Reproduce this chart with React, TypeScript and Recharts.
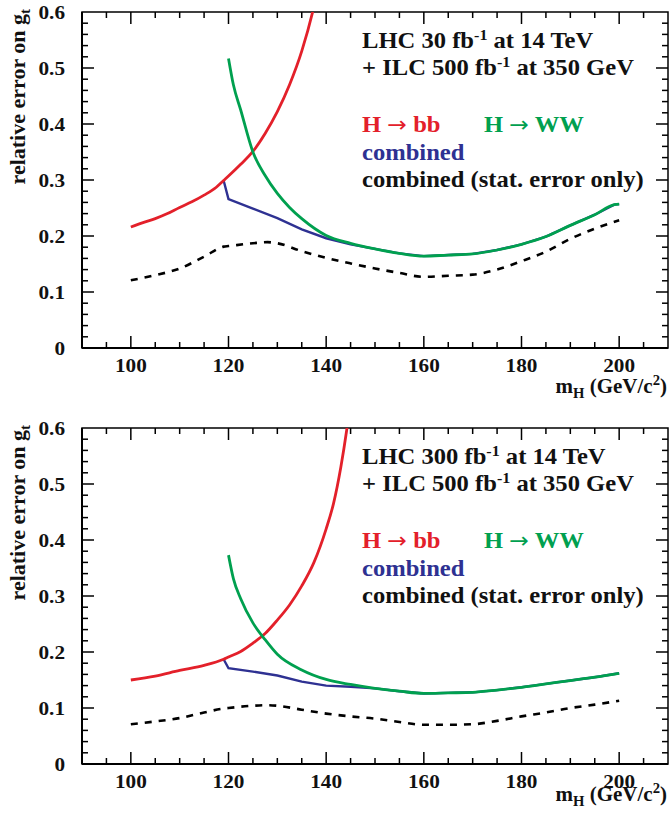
import React from "react"
import { LineChart, Line, XAxis, YAxis, ReferenceArea } from "recharts"

// --- values ---
const xTicks = [90, 95, 100, 105, 110, 115, 120, 125, 130, 135, 140, 145, 150, 155, 160, 165, 170, 175, 180, 185, 190, 195, 200, 205, 210]
const yTicks = [0, 0.02, 0.04, 0.06, 0.08, 0.1, 0.12, 0.14, 0.16, 0.18, 0.2, 0.22, 0.24, 0.26, 0.28, 0.3, 0.32, 0.34, 0.36, 0.38, 0.4, 0.42, 0.44, 0.46, 0.48, 0.5, 0.52, 0.54, 0.56, 0.58, 0.6]
const xLabels = [100, 120, 140, 160, 180, 200]
const yLabels = ["0", "0.1", "0.2", "0.3", "0.4", "0.5", "0.6"]

// LHC 30 fb-1
const bb30Mass = [100, 102.5, 105, 107.5, 110, 112.5, 115, 117.5, 119, 120, 122.5, 125, 127.5, 130, 132.5, 135, 137.5, 140]
const bb30Err = [0.216, 0.224, 0.231, 0.24, 0.251, 0.261, 0.273, 0.287, 0.299, 0.307, 0.328, 0.351, 0.383, 0.422, 0.47, 0.53, 0.61, 0.72]
const ww30Mass = [120, 121, 122.5, 125, 127.5, 130, 132.5, 135, 140, 145, 150, 155, 160, 165, 170, 175, 180, 185, 190, 195, 199, 200]
const ww30Err = [0.517, 0.47, 0.425, 0.35, 0.308, 0.276, 0.251, 0.231, 0.201, 0.187, 0.177, 0.169, 0.164, 0.166, 0.168, 0.175, 0.185, 0.199, 0.219, 0.238, 0.256, 0.257]
const comb30Mass = [119, 120, 125, 130, 135, 140, 145, 150, 155, 160, 165, 170, 175, 180, 185, 190, 195, 199, 200]
const comb30Err = [0.299, 0.266, 0.249, 0.232, 0.212, 0.196, 0.185, 0.177, 0.169, 0.164, 0.166, 0.168, 0.175, 0.185, 0.199, 0.219, 0.238, 0.256, 0.257]
const stat30Mass = [100, 105, 110, 115, 119, 120, 125, 128, 130, 135, 140, 145, 150, 155, 160, 165, 170, 175, 180, 185, 190, 195, 200]
const stat30Err = [0.121, 0.13, 0.142, 0.163, 0.181, 0.182, 0.187, 0.189, 0.187, 0.173, 0.161, 0.151, 0.142, 0.134, 0.127, 0.129, 0.131, 0.14, 0.155, 0.172, 0.195, 0.213, 0.228]

// LHC 300 fb-1
const bb300Mass = [100, 105, 110, 115, 119, 120, 122.5, 125, 127.5, 130, 132.5, 135, 137.5, 140, 141.5, 143, 144.2, 146]
const bb300Err = [0.15, 0.157, 0.167, 0.176, 0.187, 0.191, 0.201, 0.216, 0.233, 0.257, 0.284, 0.318, 0.36, 0.42, 0.465, 0.53, 0.596, 0.72]
const ww300Mass = [120, 121, 122.5, 125, 127.5, 130, 135, 140, 145, 150, 155, 160, 165, 170, 175, 180, 185, 190, 195, 200]
const ww300Err = [0.373, 0.331, 0.295, 0.252, 0.222, 0.196, 0.168, 0.151, 0.142, 0.135, 0.13, 0.126, 0.127, 0.128, 0.132, 0.137, 0.143, 0.149, 0.155, 0.162]
const comb300Mass = [119, 120, 125, 130, 135, 140, 145, 150, 155, 160, 165, 170, 175, 180, 185, 190, 195, 200]
const comb300Err = [0.187, 0.171, 0.165, 0.158, 0.147, 0.14, 0.138, 0.135, 0.13, 0.126, 0.127, 0.128, 0.132, 0.137, 0.143, 0.149, 0.155, 0.162]
const stat300Mass = [100, 105, 110, 115, 119, 120, 125, 128, 130, 135, 140, 145, 150, 155, 160, 165, 170, 175, 180, 185, 190, 195, 200]
const stat300Err = [0.071, 0.076, 0.082, 0.092, 0.099, 0.1, 0.104, 0.105, 0.104, 0.097, 0.09, 0.085, 0.081, 0.075, 0.07, 0.07, 0.071, 0.077, 0.085, 0.092, 0.1, 0.106, 0.113]

const RED = "#e3202a"
const GREEN = "#00a04f"
const BLUE = "#2e3192"
const INK = "#111"
const FONT = "'Liberation Serif', 'DejaVu Serif', serif"

const W = 669
const H = 408
const PLOT_W = 586
const PLOT_H = 336

const zip = (xs: number[], ys: number[]) => xs.map((m, i) => ({ m, v: ys[i] }))

// the original Times face is a bit wider than Liberation Serif, so stretch it sideways
function STxt({ x, y, size, sx = 1.07, anchor = "start", fill = INK, children }: any) {
  return (
    <text
      transform={`translate(${x},${y}) scale(${sx},1)`}
      textAnchor={anchor}
      fontFamily={FONT}
      fontWeight="bold"
      fontSize={size}
      fill={fill}
    >
      {children}
    </text>
  )
}

const Arrow = () => (
  <tspan fontFamily="'DejaVu Sans', sans-serif" fontWeight="normal" fontSize={22}>
    →
  </tspan>
)

function XTick(props: any) {
  const { x, y, payload } = props
  const v = payload.value
  if (v === 90 || v === 210) return <g />
  const major = xLabels.includes(v)
  const len = major ? 12 : 6
  return (
    <g>
      <line x1={x} y1={y} x2={x} y2={y - len} stroke="#000" strokeWidth={1.5} />
      <line x1={x} y1={y - PLOT_H} x2={x} y2={y - PLOT_H + len} stroke="#000" strokeWidth={1.5} />
      {major && (
        <STxt x={x} y={y + 23.5} size={18} sx={1.18} anchor="middle">
          {v}
        </STxt>
      )}
    </g>
  )
}

function YTick(props: any) {
  const { x, y, payload } = props
  const v = payload.value
  const idx = Math.round(v * 10)
  const major = Math.abs(v * 10 - idx) < 1e-6
  const len = major ? 12 : 6
  return (
    <g>
      {v > 0 && v < 0.6 && (
        <>
          <line x1={x} y1={y} x2={x + len} y2={y} stroke="#000" strokeWidth={1.5} />
          <line x1={x + PLOT_W} y1={y} x2={x + PLOT_W - len} y2={y} stroke="#000" strokeWidth={1.5} />
        </>
      )}
      {major && (
        <STxt x={x - 17} y={y + 6.5} size={18} sx={1.18} anchor="end">
          {yLabels[idx]}
        </STxt>
      )}
    </g>
  )
}

interface PanelProps {
  top: number
  marginTop: number
  marginBottom: number
  lumi: string
  titleY: number
  bb: { m: number; v: number }[]
  ww: { m: number; v: number }[]
  comb: { m: number; v: number }[]
  stat: { m: number; v: number }[]
}

function Panel({ top, marginTop, marginBottom, lumi, titleY, bb, ww, comb, stat }: PanelProps) {
  const t = marginTop
  return (
    <div style={{ position: "absolute", left: 0, top, width: W, height: H }}>
      <LineChart width={W} height={H} margin={{ top: marginTop, right: 1, bottom: marginBottom, left: 22 }}>
        <XAxis
          type="number"
          dataKey="m"
          domain={[90, 210]}
          ticks={xTicks}
          interval={0}
          height={30}
          tickSize={0}
          tickMargin={0}
          tickLine={false}
          axisLine={{ stroke: "#000", strokeWidth: 2 }}
          tick={(p: any) => <XTick {...p} />}
          allowDataOverflow
        />
        <YAxis
          type="number"
          dataKey="v"
          domain={[0, 0.6]}
          ticks={yTicks}
          interval={0}
          width={60}
          tickSize={0}
          tickMargin={0}
          tickLine={false}
          axisLine={{ stroke: "#000", strokeWidth: 2 }}
          tick={(p: any) => <YTick {...p} />}
          allowDataOverflow
        />
        <ReferenceArea x1={90} x2={210} y1={0} y2={0.6} fill="none" stroke="#000" strokeWidth={1.5} />
        <Line data={stat} dataKey="v" type="monotone" stroke="#000" strokeWidth={2.6} strokeDasharray="7 7" dot={false} isAnimationActive={false} />
        <Line data={comb} dataKey="v" type="linear" stroke={BLUE} strokeWidth={2.4} dot={false} isAnimationActive={false} />
        <Line data={bb} dataKey="v" type="monotone" stroke={RED} strokeWidth={2.8} dot={false} isAnimationActive={false} />
        <Line data={ww} dataKey="v" type="monotone" stroke={GREEN} strokeWidth={2.8} dot={false} isAnimationActive={false} />
      </LineChart>
      <svg width={W} height={H} style={{ position: "absolute", left: 0, top: 0, pointerEvents: "none" }}>
        <text transform={`translate(25, ${t - 3}) rotate(-90)`} textAnchor="end" fontFamily={FONT} fontWeight="bold" fontSize={22} fill={INK}>
          relative error on g<tspan dy={5} fontSize={15}>t</tspan>
        </text>
        <STxt x={W - 2} y={titleY} size={20} sx={1.05} anchor="end">
          m<tspan dy={5} fontSize={14}>H</tspan>
          <tspan dy={-5}> (GeV/c</tspan>
          <tspan dy={-8} fontSize={14}>2</tspan>
          <tspan dy={8}>)</tspan>
        </STxt>
        <STxt x={362} y={t + 36} size={23}>
          LHC {lumi} fb<tspan dy={-8} fontSize={15}>-1</tspan>
          <tspan dy={8}> at 14 TeV</tspan>
        </STxt>
        <STxt x={362} y={t + 63} size={23}>
          + ILC 500 fb<tspan dy={-8} fontSize={15}>-1</tspan>
          <tspan dy={8}> at 350 GeV</tspan>
        </STxt>
        <STxt x={362} y={t + 120} size={23} fill={RED}>
          H <Arrow /> bb
        </STxt>
        <STxt x={484} y={t + 120} size={23} fill={GREEN}>
          H <Arrow /> WW
        </STxt>
        <STxt x={362} y={t + 148} size={23} fill={BLUE}>
          combined
        </STxt>
        <STxt x={362} y={t + 175} size={23}>
          combined (stat. error only)
        </STxt>
      </svg>
    </div>
  )
}

export default function App() {
  return (
    <div style={{ position: "absolute", left: 0, top: 0, width: W, height: 816, background: "#fff" }}>
      <Panel
        top={0}
        marginTop={12}
        marginBottom={30}
        lumi="30"
        titleY={393}
        bb={zip(bb30Mass, bb30Err)}
        ww={zip(ww30Mass, ww30Err)}
        comb={zip(comb30Mass, comb30Err)}
        stat={zip(stat30Mass, stat30Err)}
      />
      <Panel
        top={408}
        marginTop={20}
        marginBottom={22}
        lumi="300"
        titleY={393}
        bb={zip(bb300Mass, bb300Err)}
        ww={zip(ww300Mass, ww300Err)}
        comb={zip(comb300Mass, comb300Err)}
        stat={zip(stat300Mass, stat300Err)}
      />
    </div>
  )
}
